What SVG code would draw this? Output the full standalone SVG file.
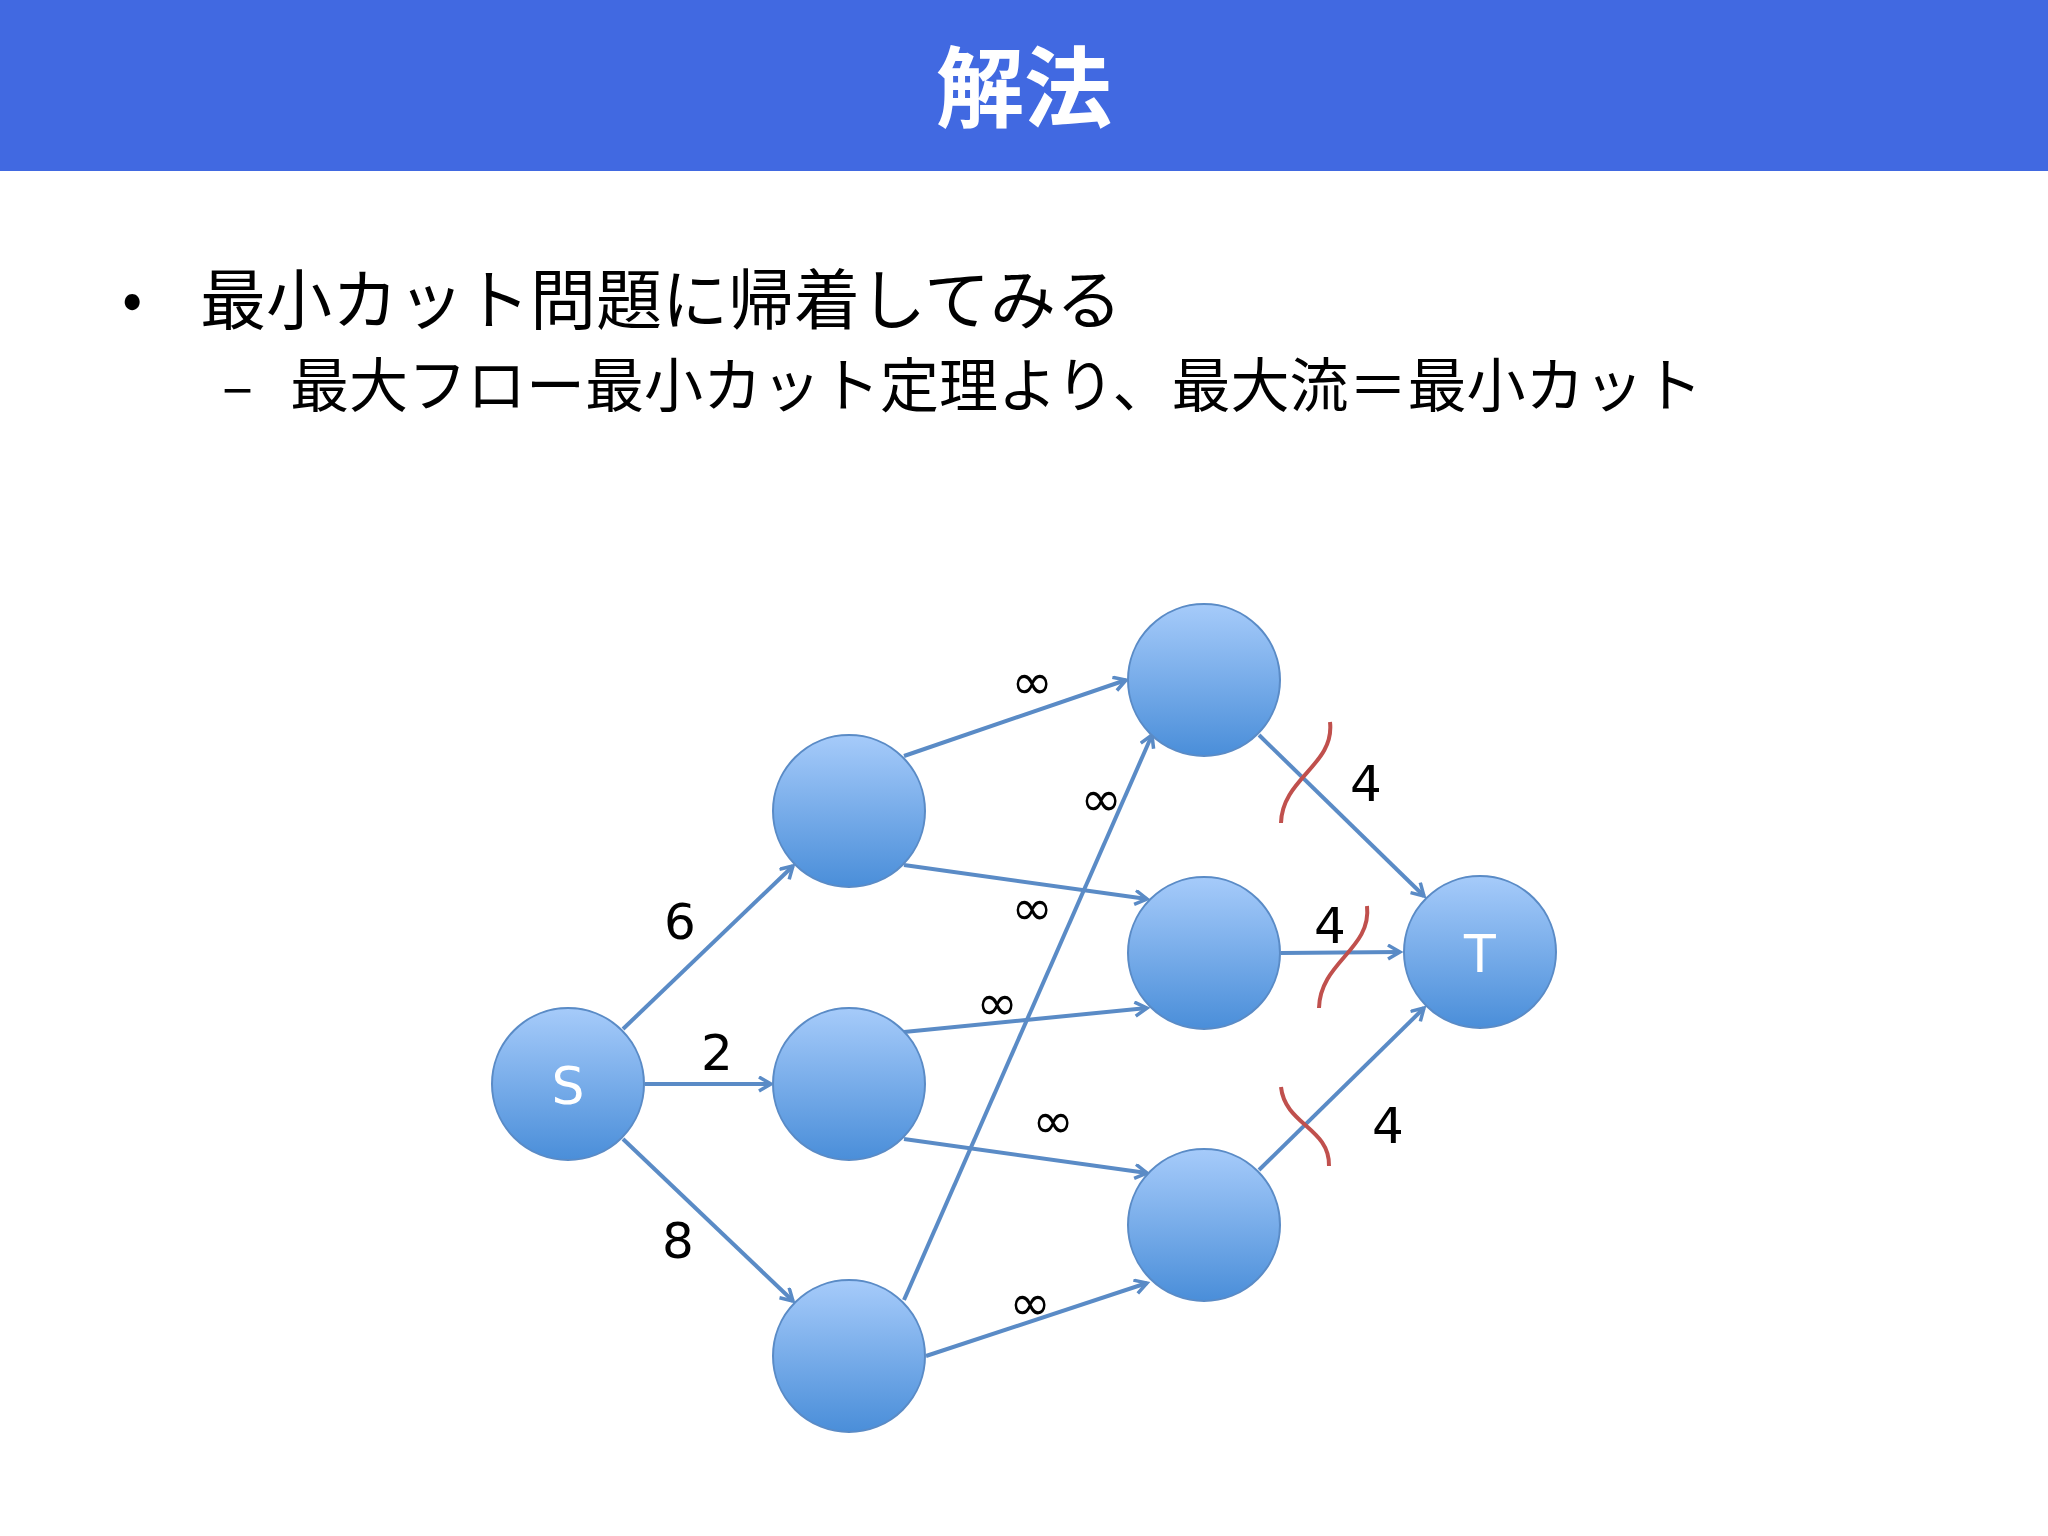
<svg xmlns="http://www.w3.org/2000/svg" width="2048" height="1536" viewBox="0 0 2048 1536">
<style>
.t{font-family:"Noto Sans CJK JP","Noto Sans",sans-serif;fill:#000}
.e{stroke:#5A8BC6;stroke-width:4;fill:none;marker-end:url(#ar)}
.n{fill:url(#g);stroke:#5A8BC6;stroke-width:2}
.l{font-family:"DejaVu Sans","Noto Sans",sans-serif;font-size:50px;fill:#000;text-anchor:middle;dominant-baseline:central}
.c{stroke:#C0504D;stroke-width:4;fill:none}
</style>
<defs>
<linearGradient id="g" x1="0" y1="0" x2="0" y2="1"><stop offset="0" stop-color="#A6CBFA"/><stop offset="1" stop-color="#4A8ED9"/></linearGradient>
<marker id="ar" markerWidth="20" markerHeight="20" refX="14" refY="8" orient="auto" markerUnits="userSpaceOnUse"><path d="M2,1 L14,8 L2,15" fill="none" stroke="#5A8BC6" stroke-width="3.5"/></marker>
</defs>
<rect x="0" y="0" width="2048" height="171" fill="#4169E1"/>
<text x="1024" y="120" text-anchor="middle" font-family="Noto Sans CJK JP,sans-serif" font-weight="bold" font-size="88" fill="#fff">解法</text>
<text class="t" x="122" y="320" font-size="60">•</text>
<text class="t" x="200" y="324" font-size="66">最小カット問題に帰着してみる</text>
<text class="t" x="222" y="407" font-size="58">–</text>
<text class="t" x="290" y="407" font-size="59">最大フロー最小カット定理より、最大流＝最小カット</text>
<g id="connectors">
<line class="e" x1="623" y1="1029" x2="793" y2="866"/>
<line class="e" x1="645" y1="1084" x2="771" y2="1084"/>
<line class="e" x1="623" y1="1139" x2="793" y2="1301"/>
<line class="e" x1="904" y1="756" x2="1126" y2="680"/>
<line class="e" x1="904" y1="865" x2="1147" y2="899"/>
<line class="e" x1="904" y1="1032" x2="1147" y2="1008"/>
<line class="e" x1="904" y1="1139" x2="1147" y2="1173"/>
<line class="e" x1="904" y1="1300" x2="1152" y2="735"/>
<line class="e" x1="926" y1="1356" x2="1147" y2="1283"/>
<line class="e" x1="1259" y1="735" x2="1424" y2="896"/>
<line class="e" x1="1281" y1="953" x2="1400" y2="952"/>
<line class="e" x1="1259" y1="1170" x2="1424" y2="1008"/>
<text class="l" x="680" y="922">6</text>
<text class="l" x="717" y="1053">2</text>
<text class="l" x="678" y="1241">8</text>
<text class="l" x="1032" y="682">∞</text>
<text class="l" x="1101" y="799">∞</text>
<text class="l" x="1032" y="908">∞</text>
<text class="l" x="997" y="1003">∞</text>
<text class="l" x="1053" y="1121">∞</text>
<text class="l" x="1030" y="1303">∞</text>
<text class="l" x="1366" y="784">4</text>
<text class="l" x="1330" y="926">4</text>
<text class="l" x="1388" y="1126">4</text>
<path class="c" d="M1330,722 C1335,765 1282,778 1281,823"/>
<path class="c" d="M1367,906 C1372,949 1320,962 1319,1008"/>
<path class="c" d="M1281,1087 C1285,1125 1330,1128 1329,1166"/>
</g>
<g id="S"><circle class="n" cx="568" cy="1084" r="76"/><text x="568" y="1086" font-family="DejaVu Sans,sans-serif" font-size="52" fill="#fff" text-anchor="middle" dominant-baseline="central">S</text></g>
<g id="A"><circle class="n" cx="849" cy="811" r="76"/></g>
<g id="B"><circle class="n" cx="849" cy="1084" r="76"/></g>
<g id="C"><circle class="n" cx="849" cy="1356" r="76"/></g>
<g id="D"><circle class="n" cx="1204" cy="680" r="76"/></g>
<g id="E"><circle class="n" cx="1204" cy="953" r="76"/></g>
<g id="F"><circle class="n" cx="1204" cy="1225" r="76"/></g>
<g id="T"><circle class="n" cx="1480" cy="952" r="76"/><text x="1480" y="954" font-family="DejaVu Sans,sans-serif" font-size="52" fill="#fff" text-anchor="middle" dominant-baseline="central">T</text></g>
</svg>
